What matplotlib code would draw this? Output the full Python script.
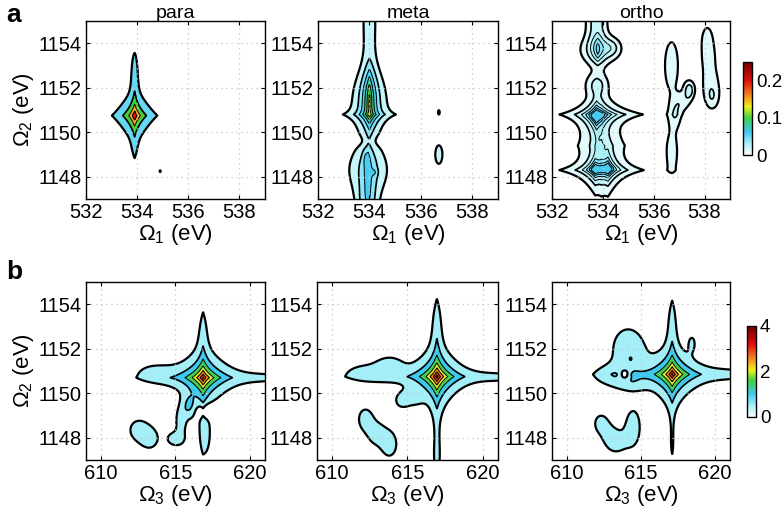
import numpy as np
import matplotlib
matplotlib.use('Agg')
import matplotlib.pyplot as plt
from matplotlib.colors import LinearSegmentedColormap, Normalize
from matplotlib.cm import ScalarMappable

plt.rcParams['font.family'] = ['Liberation Sans', 'DejaVu Sans']
plt.rcParams['mathtext.fontset'] = 'custom'
plt.rcParams['mathtext.rm'] = 'Liberation Sans'
plt.rcParams['mathtext.it'] = 'Liberation Sans:italic'

# colour map
cmap_pos = [0.0, 0.12, 0.25, 0.40, 0.52, 0.65, 0.80, 1.0]
cmap_hex = ['#ffffff', '#a8f0f8', '#40c8f0', '#40d040', '#f0f020',
            '#f08020', '#e01010', '#700000']
cmap = LinearSegmentedColormap.from_list('spec', list(zip(cmap_pos, cmap_hex)))

titles = ['para', 'meta', 'ortho']
x1_lim = (532, 539)
x3_lim = (609, 621)
y_lim = (1147, 1155)
x1_ticks = [532, 534, 536, 538]
x3_ticks = [610, 615, 620]
y_ticks = [1148, 1150, 1152, 1154]
vmax_a = 0.25
vmax_b = 4.0
cbar_ticks_a = [0, 0.1, 0.2]
cbar_labels_a = ['0', '0.1', '0.2']
cbar_ticks_b = [0, 2, 4]
cbar_labels_b = ['0', '2', '4']
levels_a = [[0.05, 0.10, 0.15, 0.20],
            [0.02, 0.04, 0.06, 0.08, 0.10, 0.12],
            [0.01, 0.02, 0.03, 0.04, 0.05, 0.06]]
levels_b = [0.5, 1.0, 1.5, 2.0, 2.5, 3.0, 3.5]

# spectral features: (shape, centre x, centre y, height, width x, width y)
# 'd' = diamond-shaped peak or arm, 'v' = vertical streak, 'g' = gaussian blob (negative = dip)
peaks_a_para = [
    ('d', 533.9, 1150.75, 0.20, 0.6, 0.9),
    ('d', 533.9, 1150.75, 0.01, 1.2, 0.2),
    ('d', 533.9, 1150.75, 0.04, 0.12, 2.0),
    ('g', 533.9, 1152.9, 0.045, 0.12, 0.8),
    ('g', 533.9, 1149.2, 0.015, 0.12, 0.5),
    ('g', 534.9, 1148.25, 0.06, 0.03, 0.06),
]
peaks_a_meta = [
    ('v', 534.0, 1151.45, 0.12, 0.36, 1.0),
    ('d', 534.0, 1150.8, 0.04, 1.0, 0.25),
    ('g', 534.0, 1155.0, 0.03, 0.25, 1.8),
    ('g', 533.95, 1149.6, -0.008, 0.6, 0.2),
    ('v', 533.95, 1148.3, 0.075, 0.55, 0.9),
    ('g', 533.9, 1146.8, 0.04, 0.3, 0.6),
    ('g', 533.85, 1148.85, 0.012, 0.08, 0.25),
    ('g', 534.2, 1148.2, 0.014, 0.08, 0.12),
    ('g', 536.7, 1150.9, 0.025, 0.04, 0.12),
    ('g', 536.7, 1149.0, 0.03, 0.15, 0.45),
]
peaks_a_ortho = [
    ('v', 533.8, 1153.7, 0.045, 0.4, 0.45),
    ('g', 533.75, 1155.2, 0.025, 0.3, 1.0),
    ('g', 534.35, 1153.8, 0.015, 0.25, 0.3),
    ('g', 533.75, 1152.15, 0.016, 0.3, 0.35),
    ('d', 533.75, 1150.7, 0.07, 0.3, 0.55),
    ('d', 533.95, 1150.8, 0.035, 1.1, 0.25),
    ('d', 533.7, 1148.35, 0.05, 0.25, 0.45),
    ('d', 534.2, 1148.4, 0.055, 0.25, 0.5),
    ('d', 533.95, 1148.3, 0.035, 1.1, 0.25),
    ('d', 533.95, 1149.4, 0.025, 0.9, 1.8),
    ('g', 536.7, 1153.0, 0.014, 0.3, 1.25),
    ('g', 536.72, 1149.1, 0.014, 0.21, 0.85),
    ('g', 537.4, 1151.9, 0.025, 0.15, 0.3),
    ('g', 536.85, 1150.8, 0.014, 0.18, 0.45),
    ('g', 537.15, 1151.35, 0.013, 0.22, 0.3),
    ('g', 538.15, 1153.5, 0.013, 0.3, 0.7),
    ('g', 538.25, 1152.1, 0.013, 0.3, 0.6),
    ('g', 538.3, 1151.5, 0.012, 0.2, 0.4),
    ('g', 538.1, 1154.3, 0.011, 0.15, 0.4),
]
peaks_b_para = [
    ('d', 616.85, 1150.7, 2.6, 1.4, 0.85),
    ('d', 616.85, 1150.7, 0.45, 5.0, 0.4),
    ('d', 616.85, 1150.7, 0.55, 0.35, 3.5),
    ('g', 616.85, 1153.0, 0.25, 0.3, 0.8),
    ('g', 621.5, 1150.7, 0.3, 1.5, 0.35),
    ('g', 613.4, 1150.95, 0.4, 1.1, 0.4),
    ('g', 617.0, 1149.2, -0.6, 0.5, 0.25),
    ('g', 612.5, 1148.35, 0.7, 0.6, 0.45),
    ('g', 613.3, 1147.95, 0.7, 0.5, 0.4),
    ('g', 615.9, 1149.4, 0.8, 0.35, 0.4),
    ('g', 615.35, 1148.7, 0.8, 0.25, 0.45),
    ('g', 615.0, 1147.95, 0.85, 0.45, 0.25),
    ('g', 617.0, 1148.05, 0.55, 0.3, 0.7),
]
peaks_b_meta = [
    ('d', 616.95, 1150.75, 2.7, 1.2, 0.9),
    ('d', 616.95, 1150.75, 0.5, 6.0, 0.4),
    ('d', 616.95, 1150.75, 0.6, 0.35, 4.5),
    ('g', 616.95, 1153.3, 0.3, 0.3, 0.9),
    ('g', 616.95, 1147.0, 0.35, 0.35, 1.0),
    ('g', 612.3, 1150.95, 0.5, 1.6, 0.45),
    ('g', 621.5, 1150.7, 0.3, 1.5, 0.35),
    ('g', 613.8, 1151.3, 0.45, 0.6, 0.3),
    ('g', 615.3, 1149.8, 0.5, 0.5, 0.3),
    ('g', 614.6, 1149.65, 0.55, 0.35, 0.25),
    ('g', 612.2, 1148.85, 0.8, 0.4, 0.4),
    ('g', 612.9, 1148.2, 0.75, 0.5, 0.45),
    ('g', 613.8, 1147.7, 0.8, 0.45, 0.5),
]
peaks_b_ortho = [
    ('d', 617.1, 1150.85, 2.6, 1.3, 0.85),
    ('d', 617.1, 1150.85, 0.5, 5.5, 0.45),
    ('d', 617.1, 1150.85, 0.55, 0.35, 4.0),
    ('g', 617.1, 1153.4, 0.3, 0.3, 0.9),
    ('g', 617.1, 1147.5, 0.25, 0.25, 0.8),
    ('g', 621.5, 1150.85, 0.3, 1.5, 0.4),
    ('g', 614.1, 1152.05, 0.8, 0.9, 0.8),
    ('g', 612.9, 1150.8, 0.5, 1.0, 0.4),
    ('g', 614.3, 1150.45, 0.4, 0.8, 0.3),
    ('g', 613.9, 1150.85, -0.9, 0.25, 0.17),
    ('g', 614.3, 1151.55, -0.7, 0.05, 0.05),
    ('g', 618.45, 1152.3, 0.4, 0.25, 0.35),
    ('g', 612.3, 1148.65, 0.75, 0.4, 0.35),
    ('g', 612.8, 1148.2, 0.4, 0.4, 0.35),
    ('g', 613.3, 1147.8, 0.72, 0.6, 0.45),
    ('g', 614.45, 1148.45, 0.78, 0.45, 0.7),
]
peaks_a = [peaks_a_para, peaks_a_meta, peaks_a_ortho]
peaks_b = [peaks_b_para, peaks_b_meta, peaks_b_ortho]


def build_map(peaks, X, Y):
    Z = np.zeros_like(X)
    for shape, x0, y0, amp, wx, wy in peaks:
        u = (X - x0) / wx
        v = (Y - y0) / wy
        if shape == 'd':
            Z += amp * np.exp(-(np.abs(u) + np.abs(v)))
        elif shape == 'v':
            Z += amp * np.exp(-np.abs(u) - 0.5 * v ** 2)
        else:
            Z += amp * np.exp(-0.5 * (u ** 2 + v ** 2))
    return Z


def draw_panel(ax, peaks, xlim, levels, vmax):
    x = np.linspace(xlim[0], xlim[1], 420)
    y = np.linspace(y_lim[0], y_lim[1], 420)
    X, Y = np.meshgrid(x, y)
    Z = build_map(peaks, X, Y)
    lev = list(levels) + [max(Z.max(), levels[-1]) + 1e-6]
    fill_cols = [cmap(l / vmax) for l in levels]
    ax.contourf(X, Y, Z, levels=lev, colors=fill_cols, zorder=1)
    lws = [1.6, 1.2] + [0.7] * (len(levels) - 2)
    ax.contour(X, Y, Z, levels=levels, colors='k', linewidths=lws, zorder=2)
    ax.set_xlim(xlim)
    ax.set_ylim(y_lim)
    ax.set_yticks(y_ticks)
    ax.grid(True, linestyle=(0, (1, 3)), color='#c4c4c4', linewidth=0.9, zorder=3)
    ax.set_axisbelow(False)
    ax.tick_params(direction='in', top=True, right=True, length=3,
                   labelsize=14.5, width=0.8, pad=3)
    for sp in ax.spines.values():
        sp.set_linewidth(1.0)
        sp.set_zorder(4)


fig = plt.figure(figsize=(7.84, 5.16), dpi=100)

xa = [0.1097, 0.4056, 0.7041]
wa = [0.2283, 0.2296, 0.2270]
xb = [0.1097, 0.4043, 0.7041]
wb = [0.2283, 0.2309, 0.2270]

for i in range(3):
    ax = fig.add_axes([xa[i], 0.6143, wa[i], 0.345])
    draw_panel(ax, peaks_a[i], x1_lim, levels_a[i], vmax_a)
    ax.set_xticks(x1_ticks)
    ax.set_title(titles[i], fontsize=14, pad=2)
    ax.set_xlabel(r'$\Omega_1$ (eV)', fontsize=16, labelpad=0)
    if i == 0:
        ax.set_ylabel(r'$\Omega_2$ (eV)', fontsize=16, labelpad=2)

    ax = fig.add_axes([xb[i], 0.1085, wb[i], 0.345])
    draw_panel(ax, peaks_b[i], x3_lim, levels_b, vmax_b)
    ax.set_xticks(x3_ticks)
    ax.set_xlabel(r'$\Omega_3$ (eV)', fontsize=16, labelpad=0)
    if i == 0:
        ax.set_ylabel(r'$\Omega_2$ (eV)', fontsize=16, labelpad=2)

for pos, vmax, ticks, labels in [
        ([0.9477, 0.6996, 0.0120, 0.1802], vmax_a, cbar_ticks_a, cbar_labels_a),
        ([0.9528, 0.1919, 0.0110, 0.1764], vmax_b, cbar_ticks_b, cbar_labels_b)]:
    cax = fig.add_axes(pos)
    sm = ScalarMappable(norm=Normalize(0, vmax), cmap=cmap)
    cb = fig.colorbar(sm, cax=cax, ticks=ticks)
    cb.ax.set_yticklabels(labels)
    cb.ax.tick_params(labelsize=13.5, length=0, pad=3)
    cb.outline.set_linewidth(1.0)

fig.text(0.008, 0.995, 'a', fontsize=19, fontweight='bold', va='top', ha='left')
fig.text(0.008, 0.497, 'b', fontsize=19, fontweight='bold', va='top', ha='left')

fig.savefig('out.png', dpi=100)
